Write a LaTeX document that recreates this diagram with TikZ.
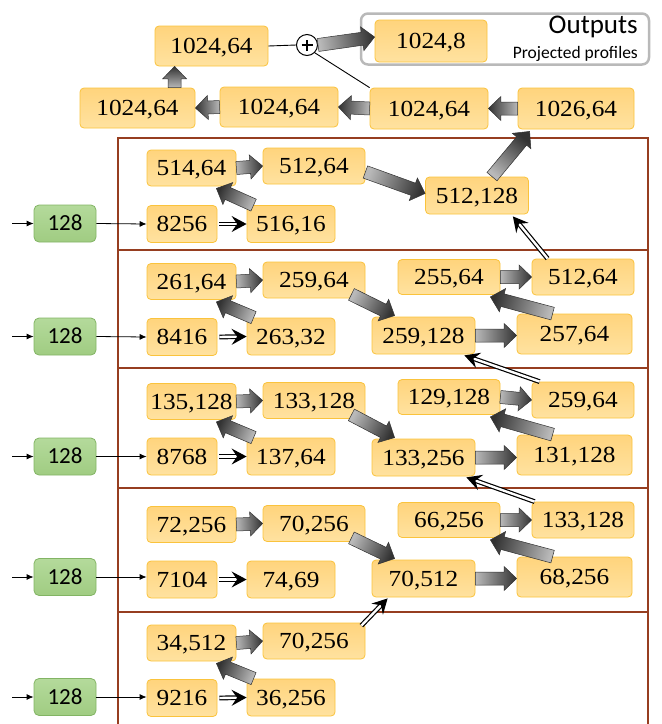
\documentclass[tikz,border=0pt]{standalone}
\usepackage{fontspec}
\setmainfont[FakeStretch=1.1]{Liberation Serif}
\newfontfamily\calfont{Carlito}
\usetikzlibrary{arrows.meta,calc}
\definecolor{obord}{RGB}{250,195,60}
\definecolor{otop}{RGB}{255,212,125}
\definecolor{obot}{RGB}{255,226,160}
\definecolor{gbord}{RGB}{130,180,100}
\definecolor{gtop}{RGB}{180,218,155}
\definecolor{gbot}{RGB}{160,204,130}
\definecolor{brn}{RGB}{150,62,32}
\definecolor{garlight}{RGB}{185,185,185}
\definecolor{gardark}{RGB}{50,50,50}
\tikzset{
  ob/.style={draw=obord, line width=0.8pt, rounded corners=4pt, top color=otop, bottom color=obot,
    inner sep=0pt, font=\fontsize{23}{23}\selectfont, text height=15pt, text depth=0pt},
  gbx/.style={draw=gbord, line width=0.8pt, rounded corners=5pt, top color=gtop, bottom color=gbot,
    inner sep=0pt, minimum width=62pt, minimum height=37pt,
    font=\calfont\fontsize{23}{23}\selectfont, text height=14.5pt, text depth=0pt},
  wA/.style={minimum width=89pt, minimum height=36pt},
  wAp/.style={minimum width=70pt, minimum height=37pt},
  wBp/.style={minimum width=88pt, minimum height=37pt},
  wB/.style={minimum width=102pt, minimum height=36pt},
  wC/.style={minimum width=103pt, minimum height=37pt},
  wD/.style={minimum width=102pt, minimum height=35pt},
  wE/.style={minimum width=102pt, minimum height=36pt},
  wF/.style={minimum width=115pt, minimum height=40pt},
  thinarr/.style={line width=0.8pt, -{Latex[length=7pt,width=6pt]}},
  dbl/.style={double, double distance=2.4pt, line width=1.2pt, -{Stealth[length=15pt,width=16pt,inset=5.5pt]}},
  garr/.style={draw=gardark, line width=0.5pt, top color=gardark, bottom color=garlight},
  brframe/.style={draw=brn, line width=1.3pt},
  plain/.style={line width=0.9pt}
}
\def\gs{6.5pt}
\def\gw{12pt}
\def\gh{12.5pt}
\newcommand\garrow[2]{%
  \path #1 coordinate (gA) #2 coordinate (gB);
  \pgfmathanglebetweenpoints{\pgfpointanchor{gA}{center}}{\pgfpointanchor{gB}{center}}%
  \let\gtmp\pgfmathresult
  \pgfmathsetmacro\gang{\gtmp-90}%
  \path ($(gB)!\gh!(gA)$) coordinate (gC);
  \shade[garr, shading angle=\gang] ($(gA)!\gs!90:(gB)$) -- ($(gC)!\gs!-90:(gA)$) -- ($(gC)!\gw!-90:(gA)$)
     -- (gB) -- ($(gC)!\gw!90:(gA)$) -- ($(gC)!\gs!90:(gA)$) -- ($(gA)!\gs!-90:(gB)$) -- cycle;
}
\begin{document}
\begin{tikzpicture}[x=1pt,y=-1pt]
\useasboundingbox (0,0) rectangle (662,724);
% frames
\draw[brframe] (118,724) -- (118,138) -- (648,138) -- (648,724);
\foreach \yy in {250,368,488,612} \draw[brframe] (118,\yy) -- (648,\yy);

% top part
\node[ob, minimum width=113pt, minimum height=40pt] (t1) at (211.5,46) {1024,64};
\node[draw=gray!55, line width=2.5pt, rounded corners=7pt, minimum width=288pt, minimum height=51pt] (outf) at (505,39) {};
\node[ob, minimum width=112pt, minimum height=42pt] (o1) at (431,41) {1024,8};
\node[anchor=east, inner sep=0pt, font=\calfont\fontsize{27}{27}\selectfont] (outt) at (638,27) {Outputs};
\node[anchor=east, inner sep=0pt, font=\calfont\fontsize{17.5}{17.5}\selectfont] (outs) at (638,54) {Projected profiles};
\node[draw, circle, line width=1pt, minimum size=21pt, inner sep=0pt, fill=white] (pl) at (307,45) {};
\draw[line width=1.4pt] ([xshift=-5.5pt]pl.center) -- ([xshift=5.5pt]pl.center)
  ([yshift=-5.5pt]pl.center) -- ([yshift=5.5pt]pl.center);
\node[ob, minimum width=115pt, minimum height=40pt] (r1) at (137.5,108) {1024,64};
\node[ob, minimum width=118pt, minimum height=40pt] (r2) at (279,107) {1024,64};
\node[ob, minimum width=118pt, minimum height=41pt] (r3) at (429,108.5) {1024,64};
\node[ob, minimum width=116pt, minimum height=41pt] (r4) at (576,108.5) {1026,64};

\garrow{(r4.west)}{(r3.east)}
\garrow{(r3.west)}{(r2.east)}
\garrow{(r2.west)}{(r1.east)}
\coordinate (upx) at ([xshift=20pt]t1.south west);
\garrow{(r1.north -| upx)}{(upx)}
\draw[plain] (t1.east) -- (pl.west);
\draw[plain] (pl.south east) -- (r3.north west);
\garrow{(pl.east)}{([yshift=4pt]o1.west)}

% band 1
\node[gbx] (g1) at (65,223.5) {128};
\node[ob,wAp] (p1) at (182,224) {8256};
\node[ob,wBp] (q1) at (291,224) {516,16};
\node[ob,wA] (a1) at (191.5,168) {514,64};
\node[ob,wB] (b1) at (314,166) {512,64};
\node[ob,wC] (c1) at (477,195.5) {512,128};
\coordinate (s1) at (12,223.5);
\draw[thinarr] (s1) -- (g1.west);
\draw[thinarr] (g1.east) -- (p1.west);
\draw[dbl] ([xshift=2pt]p1.east) -- (q1.west);
\garrow{([xshift=7pt]q1.north west)}{([xshift=-20pt,yshift=-2pt]a1.south east)}
\garrow{(a1.east)}{(b1.west)}
\garrow{([yshift=-6pt]b1.east)}{([yshift=2pt]c1.west)}
\garrow{([xshift=15pt]c1.north)}{([xshift=12pt,yshift=-2pt]r4.south west)}

% band 2
\node[gbx] (g2) at (65,336.5) {128};
\node[ob,wAp] (p2) at (182,337) {8416};
\node[ob,wBp] (q2) at (291,336.5) {263,32};
\node[ob,wA] (a2) at (191.5,281.5) {261,64};
\node[ob,wB] (b2) at (314,280) {259,64};
\node[ob,wC] (c2) at (423.5,335.5) {259,128};
\node[ob,wD] (d2) at (449,277) {255,64};
\node[ob,wE] (e2) at (583,277) {512,64};
\node[ob,wF] (f2) at (574.5,334) {257,64};
\coordinate (s2) at (12,336.5);
\draw[thinarr] (s2) -- (g2.west);
\draw[thinarr] (g2.east) -- (p2.west);
\draw[dbl] ([xshift=2pt]p2.east) -- (q2.west);
\garrow{([xshift=7pt]q2.north west)}{([xshift=-20pt,yshift=-2pt]a2.south east)}
\garrow{(a2.east)}{(b2.west)}
\garrow{([xshift=-14pt,yshift=4pt]b2.south east)}{([xshift=23pt,yshift=1pt]c2.north west)}
\garrow{(c2.east)}{(f2.west |- c2.east)}
\garrow{([xshift=36pt]f2.north west)}{([xshift=-10pt,yshift=-2pt]d2.south east)}
\garrow{(d2.east)}{(e2.west)}
\draw[dbl] ([xshift=16pt]e2.north west) -- ([xshift=-16pt,yshift=-2pt]c1.south east);

% band 3
\node[gbx] (g3) at (65,456.5) {128};
\node[ob,wAp] (p3) at (182,456.5) {8768};
\node[ob,wBp] (q3) at (291,456.5) {137,64};
\node[ob,wA] (a3) at (191.5,401.5) {135,128};
\node[ob,wB] (b3) at (314,400.5) {133,128};
\node[ob,wC] (c3) at (423.5,457.5) {133,256};
\node[ob,wD] (d3) at (449,397) {129,128};
\node[ob,wE] (e3) at (583,400) {259,64};
\node[ob,wF] (f3) at (574.5,455) {131,128};
\coordinate (s3) at (12,456.5);
\draw[thinarr] (s3) -- (g3.west);
\draw[thinarr] (g3.east) -- (p3.west);
\draw[dbl] ([xshift=2pt]p3.east) -- (q3.west);
\garrow{([xshift=7pt]q3.north west)}{([xshift=-20pt,yshift=-2pt]a3.south east)}
\garrow{(a3.east)}{(b3.west)}
\garrow{([xshift=-14pt,yshift=4pt]b3.south east)}{([xshift=23pt,yshift=1pt]c3.north west)}
\garrow{(c3.east)}{(f3.west |- c3.east)}
\garrow{([xshift=36pt]f3.north west)}{([xshift=-10pt,yshift=-2pt]d3.south east)}
\garrow{(d3.east)}{(e3.west)}
\draw[dbl] ([xshift=8pt]e3.north west) -- ([xshift=-11pt,yshift=-1pt]c2.south east);

% band 4
\node[gbx] (g4) at (65,577) {128};
\node[ob,wAp] (p4) at (182,579.5) {7104};
\node[ob,wBp] (q4) at (291,579.5) {74,69};
\node[ob,wA] (a4) at (191.5,524.5) {72,256};
\node[ob,wB] (b4) at (314,523.5) {70,256};
\node[ob,wC] (c4) at (423.5,578.5) {70,512};
\node[ob,wD] (d4) at (449,520) {66,256};
\node[ob,wE] (e4) at (583,520) {133,128};
\node[ob,wF] (f4) at (574.5,577) {68,256};
\coordinate (s4) at (12,577);
\draw[thinarr] (s4) -- (g4.west);
\draw[thinarr] (g4.east) -- (p4.west |- g4.east);
\draw[dbl] ([xshift=2pt]p4.east) -- (q4.west);
\garrow{(a4.east)}{(b4.west)}
\garrow{([xshift=-14pt,yshift=4pt]b4.south east)}{([xshift=23pt,yshift=1pt]c4.north west)}
\garrow{(c4.east)}{(f4.west |- c4.east)}
\garrow{([xshift=36pt]f4.north west)}{([xshift=-10pt,yshift=-2pt]d4.south east)}
\garrow{(d4.east)}{(e4.west)}
\draw[dbl] ([xshift=3pt]e4.north west) -- ([xshift=-9pt,yshift=-1pt]c3.south east);

% band 5
\node[gbx] (g5) at (65,697) {128};
\node[ob,wAp] (p5) at (182,698) {9216};
\node[ob,wBp] (q5) at (291,697.5) {36,256};
\node[ob,wA] (a5) at (191.5,643) {34,512};
\node[ob,wB] (b5) at (314,641) {70,256};
\coordinate (s5) at (12,697);
\draw[thinarr] (s5) -- (g5.west);
\draw[thinarr] (g5.east) -- (p5.west |- g5.east);
\draw[dbl] ([xshift=2pt]p5.east) -- (q5.west);
\garrow{([xshift=7pt]q5.north west)}{([xshift=-20pt,yshift=-2pt]a5.south east)}
\garrow{(a5.east)}{(b5.west)}
\draw[dbl] ([xshift=-4pt,yshift=-3pt]b5.north east) -- ([xshift=16pt,yshift=-1pt]c4.south west);
\end{tikzpicture}
\end{document}
